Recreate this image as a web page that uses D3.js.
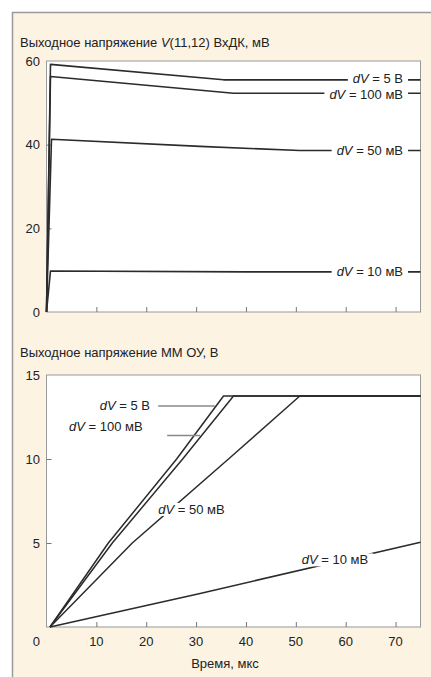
<!DOCTYPE html>
<html>
<head>
<meta charset="utf-8">
<script src="https://cdn.jsdelivr.net/npm/d3@7"></script>
<style>
  body { margin: 0; background: #fff; }
  svg { display: block; }
  text { font-family: "Liberation Sans Narrow", "Liberation Sans", Arial, sans-serif; font-size: 13px; fill: #222; }
</style>
</head>
<body>
<svg id="chart" width="431" height="677"></svg>
<script>
// series names
const seriesNames = ["5 В", "100 мВ", "50 мВ", "10 мВ"];

// top chart: V(11,12) of the input diff stage, mV
const vdkTime = [
  [0, 0.8, 35.5, 75],
  [0, 0.8, 37.5, 75],
  [0, 1, 30.8, 50.8, 75],
  [0, 0.8, 40, 75]
];
const vdkValues = [
  [0, 59.2, 55.5, 55.5],
  [0, 56.3, 52.3, 52.3],
  [0, 41.3, 39.6, 38.6, 38.6],
  [0, 9.8, 9.6, 9.6]
];

// bottom chart: op-amp output, V
const ouTime = [
  [0.7, 12.4, 26.1, 35.5, 75],
  [0.7, 13.2, 27.3, 37.5, 75],
  [0.7, 17.2, 36.5, 50.8, 75],
  [0.7, 30.8, 75]
];
const ouValues = [
  [0, 5, 10, 13.75, 13.75],
  [0, 5, 10, 13.75, 13.75],
  [0, 5, 10, 13.75, 13.75],
  [0, 2.0, 5.05]
];

const xTicks = [10, 20, 30, 40, 50, 60, 70];
const topYTicks = [20, 40, 60];
const botYTicks = [5, 10, 15];

const svg = d3.select("#chart");

// cream panel with grey frame
svg.append("rect")
  .attr("x", 12.5).attr("y", 12.5)
  .attr("width", 440).attr("height", 700)
  .attr("fill", "#fcf3e3")
  .attr("stroke", "#9a9a9a")
  .attr("stroke-width", 1.5);

const left = 46.5, right = 420.5;
const x = d3.scaleLinear().domain([0, 75]).range([left, right]);

const yTop = d3.scaleLinear().domain([0, 60]).range([312, 61]);
const yBot = d3.scaleLinear().domain([0, 15]).range([627, 375]);

const lineColor = "#2b2b2b";

function drawBox(y, yTicks) {
  const [y0, y1] = y.range();
  svg.append("rect")
    .attr("x", left).attr("y", y1)
    .attr("width", right - left).attr("height", y0 - y1)
    .attr("fill", "#fff")
    .attr("stroke", "#999")
    .attr("stroke-width", 1);

  const g = svg.append("g");
  // x ticks (inward)
  g.append("g")
    .attr("transform", `translate(0,${y0})`)
    .call(d3.axisTop(x).tickValues(xTicks).tickSize(5).tickFormat(""))
    .call(a => a.select(".domain").remove())
    .selectAll("line").attr("stroke", "#777");
  // y ticks (inward)
  g.append("g")
    .attr("transform", `translate(${left},0)`)
    .call(d3.axisRight(y).tickValues(yTicks.filter(v => v < y.domain()[1])).tickSize(5).tickFormat(""))
    .call(a => a.select(".domain").remove())
    .selectAll("line").attr("stroke", "#777");

  // y tick labels
  svg.append("g").selectAll("text")
    .data(yTicks)
    .join("text")
    .attr("x", 40)
    .attr("y", d => y(d))
    .attr("dy", "0.35em")
    .attr("text-anchor", "end")
    .attr("font-size", 14)
    .text(d => d);
}

function drawSeries(y, times, values, width) {
  const line = d3.line().x(d => x(d[0])).y(d => y(d[1]));
  svg.append("g").selectAll("path")
    .data(times.map((t, i) => d3.zip(t, values[i])))
    .join("path")
    .attr("d", line)
    .attr("fill", "none")
    .attr("stroke", lineColor)
    .attr("stroke-width", width)
    .attr("stroke-linejoin", "round");
}

function label(px, py, name, anchor, bg) {
  const t = svg.append("text")
    .attr("x", px).attr("y", py)
    .attr("dy", "0.35em")
    .attr("text-anchor", anchor)
    .attr("font-size", 13.5);
  t.append("tspan").attr("font-style", "italic").text("dV");
  t.append("tspan").text(" = " + name);
  if (bg) {
    const b = t.node().getBBox();
    svg.insert("rect", () => t.node())
      .attr("x", b.x - 5).attr("y", b.y + 1)
      .attr("width", b.width + 10).attr("height", b.height - 2)
      .attr("fill", "#fff");
  }
}

// ---- top chart
svg.append("text").attr("x", 20).attr("y", 47).attr("font-size", 13.5)
  .call(t => {
    t.append("tspan").text("Выходное напряжение ");
    t.append("tspan").attr("font-style", "italic").text("V");
    t.append("tspan").text("(11,12) ВхДК, мВ");
  });
drawBox(yTop, topYTicks);
svg.append("text").attr("x", 40).attr("y", yTop(0)).attr("dy", "0.35em")
  .attr("text-anchor", "end").attr("font-size", 14).text("0");
drawSeries(yTop, vdkTime, vdkValues, 1.6);

// label positions (value axis) for the top chart
const topLabelY = [55.9, 52.1, 38.6, 9.6];
seriesNames.forEach((n, i) => {
  label(x(71.5), yTop(topLabelY[i]), n, "end", true);
});

// ---- bottom chart
svg.append("text").attr("x", 20).attr("y", 357).attr("font-size", 13.5)
  .text("Выходное напряжение ММ ОУ, В");
drawBox(yBot, botYTicks);
drawSeries(yBot, ouTime, ouValues, 1.5);

// x tick labels
svg.append("g").selectAll("text")
  .data(xTicks)
  .join("text")
  .attr("x", d => x(d))
  .attr("y", 641)
  .attr("dy", "0.35em")
  .attr("text-anchor", "middle")
  .attr("font-size", 14)
  .text(d => d);
svg.append("text").attr("x", 40).attr("y", 641).attr("dy", "0.35em")
  .attr("text-anchor", "end").attr("font-size", 14).text("0");
svg.append("text").attr("x", 225).attr("y", 663).attr("dy", "0.35em")
  .attr("text-anchor", "middle").attr("font-size", 13.5).text("Время, мкс");

// leader lines
svg.append("line")
  .attr("x1", x(22.4)).attr("x2", x(33.8))
  .attr("y1", yBot(13.15)).attr("y2", yBot(13.15))
  .attr("stroke", "#888").attr("stroke-width", 1.5);
svg.append("line")
  .attr("x1", x(24.2)).attr("x2", x(30.8))
  .attr("y1", yBot(11.4)).attr("y2", yBot(11.4))
  .attr("stroke", "#888").attr("stroke-width", 1.5);

label(x(20.75), yBot(13.2), seriesNames[0], "end", false);
label(x(19.3), yBot(11.95), seriesNames[1], "end", false);
label(x(22.4), yBot(7.0), seriesNames[2], "start", true);
label(x(51.2), yBot(4.0), seriesNames[3], "start", true);
</script>
</body>
</html>
